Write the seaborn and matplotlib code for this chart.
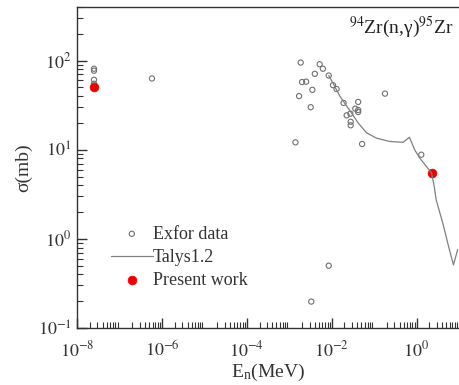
import numpy as np
import pandas as pd
import matplotlib
matplotlib.use("Agg")
import matplotlib.pyplot as plt
import seaborn as sns
from matplotlib.ticker import LogLocator, NullFormatter

# Exfor data
exfor_e = [2.5e-8, 2.5e-8, 2.5e-8, 2.5e-8, 5.8e-7,
           1.86e-3, 1.4e-3, 1.7e-3, 2.0e-3, 2.5e-3, 3.2e-3, 3.5e-3, 4.0e-3,
           5.2e-3, 6.2e-3, 8.5e-3, 1.07e-2, 1.3e-2, 1.9e-2, 2.25e-2, 2.75e-2,
           2.8e-2, 2.8e-2, 3.6e-2, 4.2e-2, 4.2e-2, 4.2e-2, 5.2e-2, 0.18, 1.29,
           8.5e-3, 3.3e-3]
exfor_s = [81, 77, 61, 55, 63,
           95, 12.1, 40, 57.5, 58, 30, 47, 71,
           91, 81, 68, 53, 48, 33.5, 24.3, 25.4,
           20.6, 18.8, 28.9, 34.4, 27.9, 26.5, 11.6, 42.6, 8.8,
           0.50, 0.198]

# Talys1.2 calculation
talys_e = [8.5e-3, 1.07e-2, 1.55e-2, 2.6e-2, 4.2e-2, 6.6e-2, 0.113, 0.23, 0.48,
           0.68, 0.9, 1.18, 1.7, 2.25, 2.6, 2.9, 4.15, 5.97, 7.4, 9.3]
talys_s = [68, 56, 40, 28, 20, 15.5, 13.5, 12.4, 12.1,
           13.8, 10, 8.1, 6.5, 5.5, 3.9, 2.74, 1.5, 0.75, 0.51, 0.76]

# Present work
present_e = [2.5e-8, 2.25]
present_s = [51, 5.5]

sns.set_theme(style="ticks")
plt.rcParams["font.family"] = ["Liberation Serif", "DejaVu Serif"]
plt.rcParams["mathtext.fontset"] = "stix"

fig = plt.figure(figsize=(4.59, 3.85), dpi=100)
ax = fig.add_axes([0.168, 0.148, 0.832, 0.834])

ex = pd.DataFrame({"E": exfor_e, "s": exfor_s})
ta = pd.DataFrame({"E": talys_e, "s": talys_s})
pw = pd.DataFrame({"E": present_e, "s": present_s})

sns.scatterplot(data=ex, x="E", y="s", ax=ax, marker="o", s=14,
                facecolor="none", edgecolor="#707070", linewidth=0.8,
                label="Exfor data")
sns.lineplot(data=ta, x="E", y="s", ax=ax, color="#808080", linewidth=0.9,
             label="Talys1.2", sort=False, estimator=None)
sns.scatterplot(data=pw, x="E", y="s", ax=ax, marker="o", s=40,
                color="#ee0000", edgecolor="#ee0000", linewidth=0.5,
                label="Present work")

ax.set_xscale("log")
ax.set_yscale("log")

ax.xaxis.set_minor_locator(LogLocator(base=10, subs=np.arange(2, 10), numticks=50))
ax.yaxis.set_minor_locator(LogLocator(base=10, subs=np.arange(2, 10), numticks=50))
ax.xaxis.set_minor_formatter(NullFormatter())
ax.yaxis.set_minor_formatter(NullFormatter())
ax.set_xticks([1e-8, 1e-6, 1e-4, 1e-2, 1e0])
ax.set_xticklabels([r"$10^{-8}$", r"$10^{-6}$", r"$10^{-4}$", r"$10^{-2}$", r"$10^{0}$"])
ax.set_yticks([1e-1, 1e0, 1e1, 1e2])
ax.set_yticklabels([r"$10^{-1}$", r"$10^{0}$", r"$10^{1}$", r"$10^{2}$"])
ax.set_ylim(0.1, 400)
ax.set_xlim(1e-8, 1.0e1)

ax.tick_params(axis="both", which="major", direction="in", length=7, width=1,
               labelsize=13, colors="#333333")
ax.tick_params(axis="x", which="major", pad=9)
ax.tick_params(axis="y", which="major", pad=4)
ax.tick_params(axis="both", which="minor", direction="in", length=4, width=0.8,
               colors="#333333")
for sp in ["left", "bottom", "top"]:
    ax.spines[sp].set_color("#333333")
    ax.spines[sp].set_linewidth(1.0)
ax.spines["right"].set_visible(False)

ax.set_xlabel(r"E$_\mathregular{n}$(MeV)", fontsize=14, color="#333333", labelpad=1)
ax.set_ylabel(r"σ(mb)", fontsize=14, color="#333333", labelpad=4)

ax.text(0.985, 0.937, r"$^{94}$Zr(n,γ)$^{95}$Zr", transform=ax.transAxes,
        ha="right", va="center", fontsize=14, color="#222222")

leg = ax.legend(loc="center left", bbox_to_anchor=(0.07, 0.22), frameon=False,
                fontsize=13, handlelength=2.3, handletextpad=0.0,
                labelspacing=0.35, borderaxespad=0.0)
for t in leg.get_texts():
    t.set_color("#333333")

fig.savefig("out.png", dpi=100)
